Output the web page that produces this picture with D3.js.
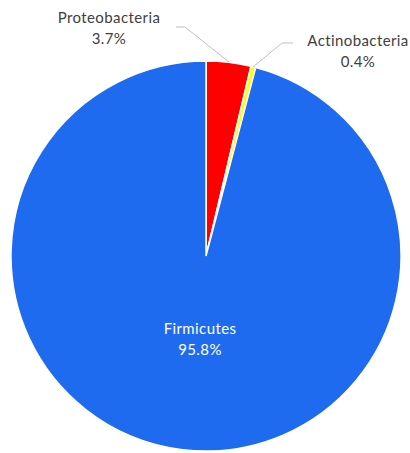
<!DOCTYPE html>
<html><head><meta charset="utf-8">
<script src="https://cdn.jsdelivr.net/npm/d3@7"></script>
<style>body{margin:0;background:#fff}svg{display:block}</style>
</head><body>
<script>
const categories = ["Proteobacteria", "Actinobacteria", "Firmicutes"];
const values = [3.7, 0.4, 95.8];
const labels = ["3.7%", "0.4%", "95.8%"];
const colors = ["#ff0000", "#ffff00", "#1f6bf0"];

const W = 410, H = 453, cx = 206, cy = 256, R = 195;
const svg = d3.select("body").append("svg").attr("width", W).attr("height", H);
const g = svg.append("g").attr("transform", `translate(${cx},${cy})`);
const pie = d3.pie().sort(null).value(d => d)(values);
const arc = d3.arc().innerRadius(0).outerRadius(R);
g.selectAll("path").data(pie).join("path")
  .attr("d", arc).attr("fill", (d, i) => colors[i])
  .attr("stroke", "#fff").attr("stroke-width", 1.5);

const font = "Lato, 'Open Sans', sans-serif";
const leaders = [
  [[176, 27], [185, 27], [229, 62]],
  [[293, 43], [282, 43], [253, 67]]
];
svg.selectAll("polyline").data(leaders).join("polyline")
  .attr("points", d => d.map(p => p.join(",")).join(" "))
  .attr("fill", "none").attr("stroke", "#bfbfbf").attr("stroke-width", 1);

const lab = [
  {x: 109, y: 23, c: "#404040"},
  {x: 358, y: 46, c: "#404040"},
  {x: 200, y: 334, c: "#ffffff"}
];
lab.forEach((l, i) => {
  const t = svg.append("text").attr("x", l.x).attr("y", l.y)
    .attr("text-anchor", "middle").attr("font-family", font)
    .attr("font-size", 15).attr("letter-spacing", 0.4).attr("fill", l.c);
  t.append("tspan").attr("x", l.x).text(categories[i]);
  t.append("tspan").attr("x", l.x).attr("dy", 21).text(labels[i]);
});
</script>
</body></html>
